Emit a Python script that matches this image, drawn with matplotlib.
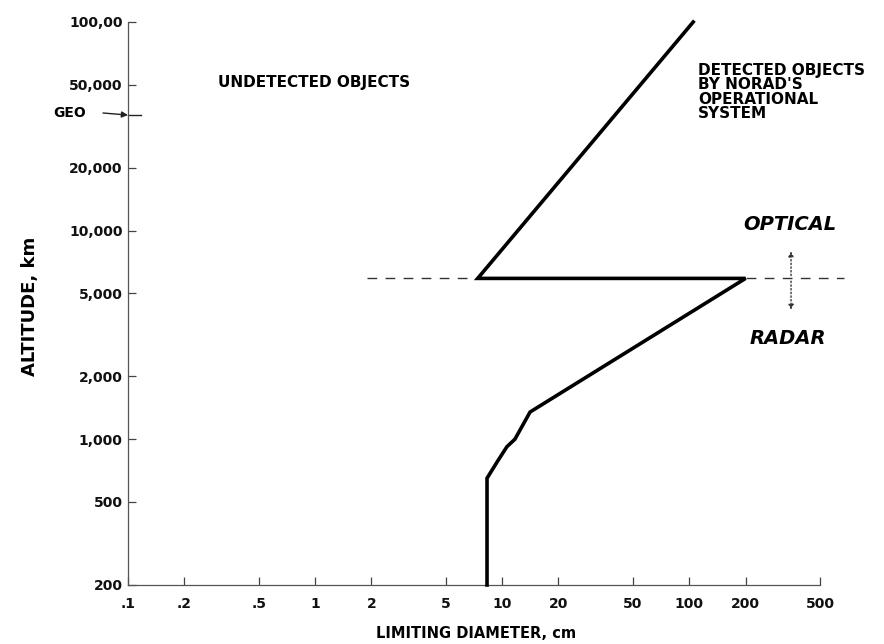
import matplotlib.pyplot as plt
from matplotlib.ticker import NullLocator

# limiting diameter vs altitude for NORAD's operational tracking system
diameter_cm = [8.3, 8.3, 9.5, 10.6, 11.7, 14.1, 200, 7.4, 105]
altitude_km = [200, 650, 790, 920, 1000, 1350, 5900, 5900, 100000]

switch_alt_km = 5900      # optical above, radar below
geo_alt_km = 35800

x_ticks = [0.1, 0.2, 0.5, 1, 2, 5, 10, 20, 50, 100, 200, 500]
x_labels = ['.1', '.2', '.5', '1', '2', '5', '10', '20', '50', '100', '200', '500']
y_ticks = [200, 500, 1000, 2000, 5000, 10000, 20000, 50000, 100000]
y_labels = ['200', '500', '1,000', '2,000', '5,000', '10,000', '20,000', '50,000', '100,00']

plt.rcParams['font.family'] = ['DejaVu Sans']
plt.rcParams['font.weight'] = 'bold'

W, H = 884, 644
fig = plt.figure(figsize=(W / 100, H / 100), dpi=100)
ax = fig.add_axes([128 / W, 1 - 585 / H, 692 / W, 563 / H])
ax.set_xscale('log')
ax.set_yscale('log')
ax.set_xlim(0.1, 500)
ax.set_ylim(200, 100000)

for s in ['top', 'right']:
    ax.spines[s].set_visible(False)
for s in ['left', 'bottom']:
    ax.spines[s].set_linewidth(0.9)
    ax.spines[s].set_color('#555555')

ax.set_xticks(x_ticks)
ax.set_xticklabels(x_labels)
ax.set_yticks(y_ticks)
ax.set_yticklabels(y_labels)
ax.xaxis.set_minor_locator(NullLocator())
ax.yaxis.set_minor_locator(NullLocator())
ax.tick_params(direction='in', length=6, width=0.9, color='#444444',
               labelsize=10, labelcolor='#111111')
ax.tick_params(axis='x', pad=9)
ax.tick_params(axis='y', pad=4)

# the detection limit curve
ax.plot(diameter_cm, altitude_km, color='black', lw=2.6,
        solid_joinstyle='miter', clip_on=False, zorder=3)

# optical / radar boundary
ax.plot([1.9, 670], [switch_alt_km, switch_alt_km], color='#333333', lw=1.0,
        dashes=(7, 6), clip_on=False, zorder=2)
for end in [8200, 4050]:
    ax.annotate('', xy=(350, end), xytext=(350, switch_alt_km),
                arrowprops=dict(arrowstyle='-|>', linestyle=':', color='#333333',
                                lw=1.0, mutation_scale=7),
                annotation_clip=False)

# GEO marker on the altitude axis
ax.annotate('', xy=(0.1, geo_alt_km), xycoords='data',
            xytext=(103 / W, 1 - 113 / H), textcoords='figure fraction',
            arrowprops=dict(arrowstyle='-|>', color='#222222', lw=1.0,
                            mutation_scale=9, shrinkA=0, shrinkB=0),
            annotation_clip=False)
ax.plot([0.1, 0.117], [geo_alt_km, geo_alt_km], color='#222222', lw=1.0,
        clip_on=False)
fig.text(53 / W, 1 - 113 / H, 'GEO', fontsize=10, va='center', ha='left')

fig.text(218 / W, 1 - 82 / H, 'UNDETECTED OBJECTS', fontsize=11,
         va='center', ha='left')
fig.text(698 / W, 1 - 63 / H, "DETECTED OBJECTS\nBY NORAD'S\nOPERATIONAL\nSYSTEM",
         fontsize=11, va='top', ha='left', linespacing=0.95)
fig.text(790 / W, 1 - 224 / H, 'OPTICAL', fontsize=14, style='italic',
         va='center', ha='center')
fig.text(788 / W, 1 - 338 / H, 'RADAR', fontsize=14, style='italic',
         va='center', ha='center')

fig.text(476 / W, 1 - 633 / H, 'LIMITING DIAMETER, cm', fontsize=10.5,
         va='center', ha='center')
fig.text(30 / W, 1 - 306 / H, 'ALTITUDE, km', fontsize=13, rotation=90,
         va='center', ha='center')

fig.savefig('out.png', dpi=100, facecolor='white')
